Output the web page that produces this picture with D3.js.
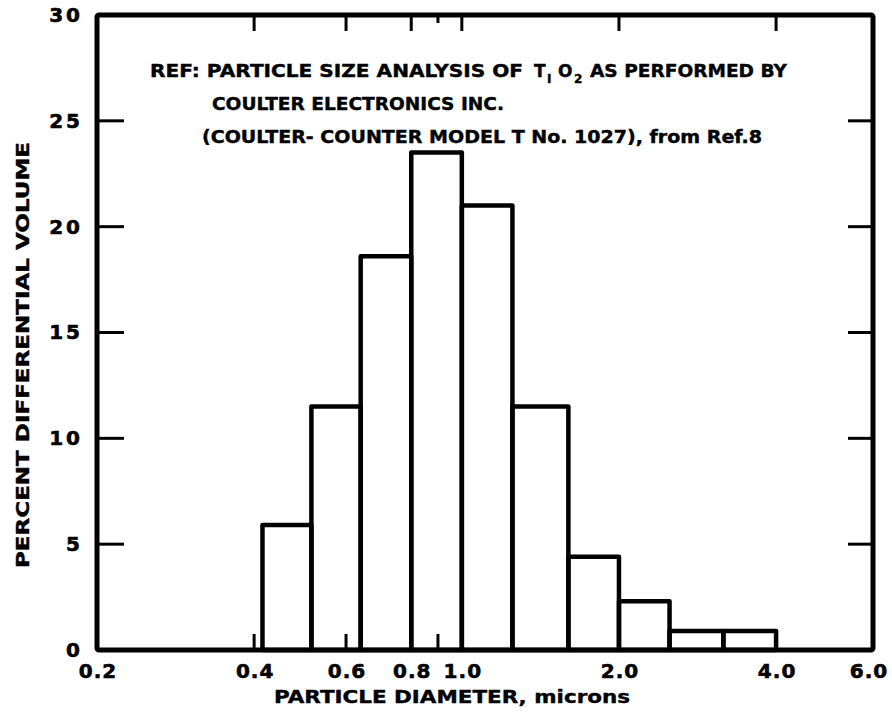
<!DOCTYPE html>
<html>
<head>
<meta charset="utf-8">
<script src="https://cdn.jsdelivr.net/npm/d3@7"></script>
<style>
  html, body { margin: 0; padding: 0; background: #fff; }
  svg { display: block; }
  text { font-family: "DejaVu Sans", "Liberation Sans", sans-serif; font-weight: bold; fill: #000; }
</style>
</head>
<body>
<svg id="chart" width="892" height="715"></svg>
<script>
// Histogram bin edges (particle diameter, microns) and percent differential volume per bin
const binEdges = [0.415, 0.515, 0.64, 0.8, 1.0, 1.25, 1.6, 2.0, 2.5, 3.17, 4.0];
const volumePct = [5.9, 11.5, 18.6, 23.5, 21.0, 11.5, 4.4, 2.3, 0.9, 0.9];

// Axis ticks
const xTickLabels = [0.2, 0.4, 0.6, 0.8, 1.0, 2.0, 4.0, 6.0];
const xInnerTicks = [0.4, 0.6, 0.8, 1.0, 2.0, 4.0];
const xMinorTicks = [0.9];
const yTickLabels = [0, 5, 10, 15, 20, 25, 30];
const yInnerTicks = [5, 10, 15, 20, 25];

const svg = d3.select("#chart");

const frame = { left: 97, right: 873, top: 15, bottom: 650 };
const x = d3.scaleLog().domain([0.2, 6.0]).range([97, 868]);
const y = d3.scaleLinear().domain([0, 30]).range([frame.bottom, frame.top]);

const bins = volumePct.map((v, i) => ({ x0: binEdges[i], x1: binEdges[i + 1], v }));

// Bars: open outlines
svg.append("g")
  .selectAll("rect")
  .data(bins)
  .join("rect")
  .attr("x", d => x(d.x0))
  .attr("y", d => y(d.v))
  .attr("width", d => x(d.x1) - x(d.x0))
  .attr("height", d => y(0) - y(d.v))
  .attr("fill", "none")
  .attr("stroke", "#000")
  .attr("stroke-width", 4.5)
  .attr("stroke-linejoin", "round");

// Inner tick marks on all four sides
const ticks = svg.append("g").attr("stroke", "#000").attr("stroke-width", 3);
ticks.selectAll(".yl").data(yInnerTicks).join("line")
  .attr("x1", frame.left).attr("x2", frame.left + 27)
  .attr("y1", d => y(d)).attr("y2", d => y(d));
ticks.selectAll(".yr").data(yInnerTicks).join("line")
  .attr("x1", frame.right).attr("x2", frame.right - 25)
  .attr("y1", d => y(d)).attr("y2", d => y(d));
ticks.selectAll(".xb").data(xInnerTicks).join("line")
  .attr("x1", d => x(d)).attr("x2", d => x(d))
  .attr("y1", frame.bottom).attr("y2", frame.bottom - 16);
ticks.selectAll(".xt").data(xInnerTicks).join("line")
  .attr("x1", d => x(d)).attr("x2", d => x(d))
  .attr("y1", frame.top).attr("y2", frame.top + 16);
ticks.selectAll(".xbm").data(xMinorTicks).join("line")
  .attr("x1", d => x(d)).attr("x2", d => x(d))
  .attr("y1", frame.bottom).attr("y2", frame.bottom - 16);
ticks.selectAll(".xtm").data(xMinorTicks).join("line")
  .attr("x1", d => x(d)).attr("x2", d => x(d))
  .attr("y1", frame.top).attr("y2", frame.top + 8);

// Frame
svg.append("rect")
  .attr("x", frame.left).attr("y", frame.top)
  .attr("width", frame.right - frame.left)
  .attr("height", frame.bottom - frame.top)
  .attr("fill", "none").attr("stroke", "#000")
  .attr("stroke-width", 5).attr("rx", 2);

// Tick labels via axis generators
const xAxis = svg.append("g")
  .attr("transform", `translate(0,${frame.bottom})`)
  .call(d3.axisBottom(x).tickValues(xTickLabels).tickFormat(d3.format(".1f")).tickSize(0).tickPadding(14));
const yAxis = svg.append("g")
  .attr("transform", `translate(${frame.left},0)`)
  .call(d3.axisLeft(y).tickValues(yTickLabels).tickFormat(d3.format("d")).tickSize(0).tickPadding(14));
[xAxis, yAxis].forEach(g => {
  g.select(".domain").remove();
  g.selectAll("text")
    .attr("font-family", "DejaVu Sans, sans-serif")
    .attr("font-weight", "bold")
    .attr("font-size", 20)
    .attr("stroke", "#000")
    .attr("stroke-width", 0.6)
    .attr("fill", "#000");
});
yAxis.selectAll("text").attr("letter-spacing", 3);
xAxis.selectAll("text").attr("letter-spacing", 1).attr("dx", 0.5);

// Axis titles
const titles = svg.append("g").attr("stroke", "#000").attr("stroke-width", 0.4);
titles.append("text")
  .attr("x", 274).attr("y", 703)
  .attr("font-size", 18)
  .attr("textLength", 356).attr("lengthAdjust", "spacingAndGlyphs")
  .text("PARTICLE DIAMETER, microns");

titles.append("text")
  .attr("transform", "translate(29,568) rotate(-90)")
  .attr("font-size", 18)
  .attr("textLength", 426).attr("lengthAdjust", "spacingAndGlyphs")
  .text("PERCENT DIFFERENTIAL VOLUME");

// Reference note
const note = svg.append("g").attr("font-size", 17).attr("stroke", "#000").attr("stroke-width", 0.4);
note.append("text").attr("x", 150).attr("y", 77)
  .attr("textLength", 373).attr("lengthAdjust", "spacingAndGlyphs")
  .text("REF: PARTICLE SIZE ANALYSIS OF");
note.append("text").attr("x", 534).attr("y", 77).text("T");
note.append("text").attr("x", 547).attr("y", 83).attr("font-size", 12).text("I");
note.append("text").attr("x", 558).attr("y", 77).text("O");
note.append("text").attr("x", 574).attr("y", 83).attr("font-size", 12).text("2");
note.append("text").attr("x", 590).attr("y", 77)
  .attr("textLength", 197).attr("lengthAdjust", "spacingAndGlyphs")
  .text("AS PERFORMED BY");
note.append("text").attr("x", 212).attr("y", 110)
  .attr("textLength", 292).attr("lengthAdjust", "spacingAndGlyphs")
  .text("COULTER ELECTRONICS INC.");
note.append("text").attr("x", 202).attr("y", 143)
  .attr("textLength", 560).attr("lengthAdjust", "spacingAndGlyphs")
  .text("(COULTER- COUNTER MODEL T No. 1027), from Ref.8");
</script>
</body>
</html>
